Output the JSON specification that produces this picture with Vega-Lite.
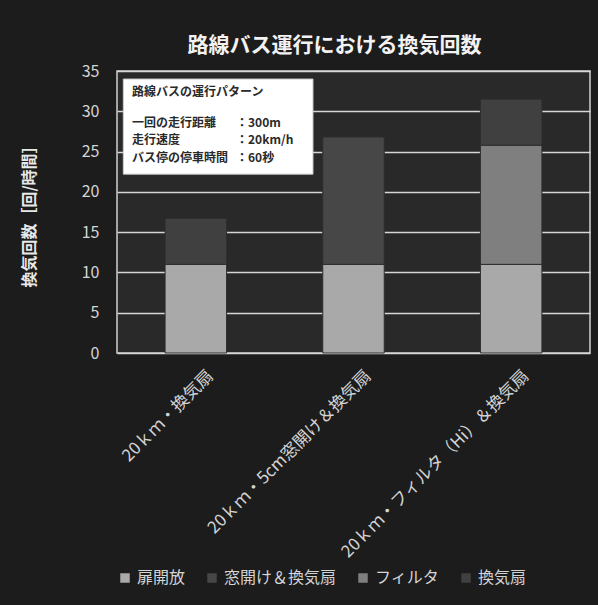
{
  "$schema": "https://vega.github.io/schema/vega-lite/v6.json",
  "width": 473,
  "height": 282,
  "autosize": "none",
  "padding": {"left": 117, "top": 71, "right": 8, "bottom": 252},
  "background": "#1c1c1c",
  "config": {
    "font": "Noto Sans CJK JP",
    "view": {"fill": "#292929", "stroke": "#cfcfcf", "strokeWidth": 1.5}
  },
  "title": {
    "text": "路線バス運行における換気回数",
    "fontSize": 21,
    "fontWeight": "bold",
    "color": "#f2f2f2",
    "font": "Noto Sans CJK JP",
    "anchor": "middle",
    "dx": -19,
    "offset": 7
  },
  "datasets": {
    "bars": [
      {"cat": "20ｋｍ・換気扇", "series": "扉開放", "ord": 1, "value": 11.0},
      {"cat": "20ｋｍ・換気扇", "series": "換気扇", "ord": 4, "value": 5.7},
      {"cat": "20ｋｍ・5cm窓開け＆換気扇", "series": "扉開放", "ord": 1, "value": 11.0},
      {"cat": "20ｋｍ・5cm窓開け＆換気扇", "series": "窓開け＆換気扇", "ord": 2, "value": 15.8},
      {"cat": "20ｋｍ・フィルタ（Hi）＆換気扇", "series": "扉開放", "ord": 1, "value": 11.0},
      {"cat": "20ｋｍ・フィルタ（Hi）＆換気扇", "series": "フィルタ", "ord": 3, "value": 14.8},
      {"cat": "20ｋｍ・フィルタ（Hi）＆換気扇", "series": "換気扇", "ord": 4, "value": 5.7}
    ],
    "box": [
      {"bx": 0.04, "bx2": 1.243, "by": 34.0, "by2": 22.2}
    ],
    "notes": [
      {"tx": 0.095, "ty": 32.4, "label": "路線バスの運行パターン"},
      {"tx": 0.095, "ty": 28.6, "label": "一回の走行距離"},
      {"tx": 0.095, "ty": 26.4, "label": "走行速度"},
      {"tx": 0.095, "ty": 24.2, "label": "バス停の停車時間"},
      {"tx": 0.755, "ty": 28.6, "label": "：300m"},
      {"tx": 0.755, "ty": 26.4, "label": "：20km/h"},
      {"tx": 0.755, "ty": 24.2, "label": "：60秒"}
    ]
  },
  "layer": [
    {
      "data": {"name": "bars"},
      "mark": {"type": "bar", "stroke": "#2e2e2e", "strokeWidth": 1},
      "encoding": {
        "x": {
          "field": "cat",
          "type": "nominal",
          "sort": ["20ｋｍ・換気扇", "20ｋｍ・5cm窓開け＆換気扇", "20ｋｍ・フィルタ（Hi）＆換気扇"],
          "scale": {"paddingInner": 0.61, "paddingOuter": 0.305},
          "axis": {
            "title": null,
            "labelAngle": -45,
            "labelAlign": "right",
            "labelBaseline": "middle",
            "labelFontSize": 17,
            "labelColor": "#d4d4d4",
            "labelPadding": 20,
            "labelOffset": 15,
            "ticks": false,
            "domain": false,
            "grid": false,
            "labelLimit": 400
          }
        },
        "y": {
          "field": "value",
          "type": "quantitative",
          "stack": "zero",
          "scale": {"domain": [0, 35], "nice": false},
          "axis": {
            "title": "換気回数［回/時間］",
            "titleFontSize": 16,
            "titleFontWeight": "bold",
            "titleColor": "#e8e8e8",
            "titlePadding": 44,
            "values": [0, 5, 10, 15, 20, 25, 30, 35],
            "labelFontSize": 16,
            "labelColor": "#d4d4d4",
            "labelPadding": 18,
            "ticks": false,
            "domain": false,
            "grid": true,
            "gridColor": "#d6d6d6",
            "gridWidth": 1.5
          }
        },
        "color": {
          "field": "series",
          "type": "nominal",
          "scale": {
            "domain": ["扉開放", "窓開け＆換気扇", "フィルタ", "換気扇"],
            "range": ["#a9a9a9", "#474747", "#7f7f7f", "#404040"]
          },
          "legend": {
            "title": null,
            "orient": "none",
            "legendX": 0,
            "legendY": 499,
            "direction": "horizontal",
            "symbolType": "square",
            "symbolSize": 90,
            "symbolStrokeWidth": 0,
            "labelFontSize": 16,
            "labelColor": "#d4d4d4",
            "columnPadding": 18,
            "labelOffset": 4
          }
        },
        "order": {"field": "ord", "type": "quantitative"}
      }
    },
    {
      "data": {"name": "box"},
      "mark": {"type": "rect", "fill": "#ffffff", "stroke": "#cccccc", "strokeWidth": 1},
      "encoding": {
        "x": {"field": "bx", "type": "quantitative", "scale": {"domain": [0, 3], "nice": false}, "axis": null},
        "x2": {"field": "bx2"},
        "y": {"field": "by", "type": "quantitative"},
        "y2": {"field": "by2"}
      }
    },
    {
      "data": {"name": "notes"},
      "mark": {"type": "text", "align": "left", "baseline": "middle", "fontSize": 12, "fontWeight": "bold", "color": "#2a2a2a"},
      "encoding": {
        "x": {"field": "tx", "type": "quantitative", "scale": {"domain": [0, 3], "nice": false}, "axis": null},
        "y": {"field": "ty", "type": "quantitative"},
        "text": {"field": "label"}
      }
    }
  ],
  "resolve": {"scale": {"x": "independent"}, "axis": {"x": "independent"}}
}
